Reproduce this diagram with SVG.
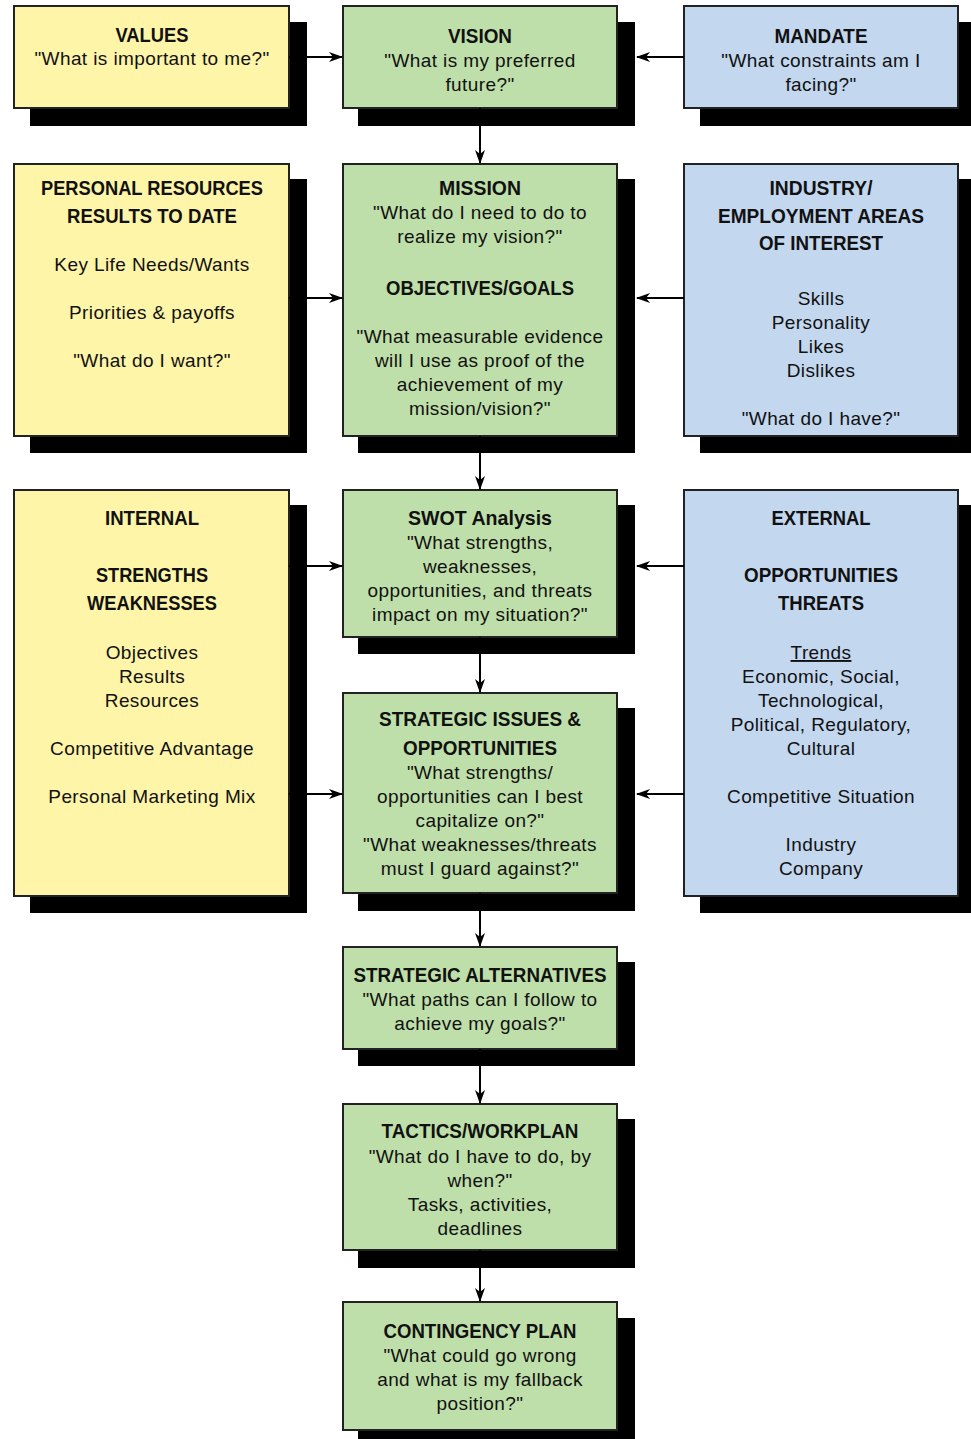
<svg xmlns="http://www.w3.org/2000/svg" width="971" height="1439" viewBox="0 0 971 1439">
<style>
.sh{fill:#000}
.y{fill:#FEF5A9;stroke:#222;stroke-width:2}
.g{fill:#BFDFAA;stroke:#222;stroke-width:2}
.b{fill:#C3D7EF;stroke:#222;stroke-width:2}
text{font-family:"Liberation Sans",Arial,sans-serif;font-size:19px;letter-spacing:0.4px;fill:#111;text-anchor:middle}
.t{font-weight:bold;font-size:21px;letter-spacing:0}
.c line{stroke:#000;stroke-width:2;fill:none}
</style>
<defs>
<marker id="ah" viewBox="0 0 14 10" refX="13" refY="5" markerWidth="14" markerHeight="10" markerUnits="userSpaceOnUse" orient="auto">
<path d="M0,0 L14,5 L0,10 L4,5 z" fill="#000"/>
</marker>
</defs>

<g id="values">
<rect class="sh" x="30" y="22" width="277" height="104"/>
<rect class="y" x="14" y="6" width="275" height="102"/>
<text class="t" x="152" y="42" textLength="73" lengthAdjust="spacingAndGlyphs">VALUES</text>
<text x="152" y="65">"What is important to me?"</text>
</g>

<g id="vision">
<rect class="sh" x="358" y="22" width="277" height="104"/>
<rect class="g" x="343" y="6" width="274" height="102"/>
<text class="t" x="480" y="43" textLength="64" lengthAdjust="spacingAndGlyphs">VISION</text>
<text x="480" y="67">"What is my preferred</text>
<text x="480" y="91">future?"</text>
</g>

<g id="mandate">
<rect class="sh" x="700" y="22" width="277" height="104"/>
<rect class="b" x="684" y="6" width="274" height="102"/>
<text class="t" x="821" y="43" textLength="93" lengthAdjust="spacingAndGlyphs">MANDATE</text>
<text x="821" y="67">"What constraints am I</text>
<text x="821" y="91">facing?"</text>
</g>

<g id="personal-resources">
<rect class="sh" x="30" y="179" width="277" height="274"/>
<rect class="y" x="14" y="164" width="275" height="272"/>
<text class="t" x="152" y="195" textLength="222" lengthAdjust="spacingAndGlyphs">PERSONAL RESOURCES</text>
<text class="t" x="152" y="223" textLength="170" lengthAdjust="spacingAndGlyphs">RESULTS TO DATE</text>
<text x="152" y="271">Key Life Needs/Wants</text>
<text x="152" y="319">Priorities &amp; payoffs</text>
<text x="152" y="367">"What do I want?"</text>
</g>

<g id="mission">
<rect class="sh" x="358" y="179" width="277" height="274"/>
<rect class="g" x="343" y="164" width="274" height="272"/>
<text class="t" x="480" y="195" textLength="82" lengthAdjust="spacingAndGlyphs">MISSION</text>
<text x="480" y="219">"What do I need to do to</text>
<text x="480" y="243">realize my vision?"</text>
<text class="t" x="480" y="295" textLength="188" lengthAdjust="spacingAndGlyphs">OBJECTIVES/GOALS</text>
<text x="480" y="343">"What measurable evidence</text>
<text x="480" y="367">will I use as proof of the</text>
<text x="480" y="391">achievement of my</text>
<text x="480" y="415">mission/vision?"</text>
</g>

<g id="industry">
<rect class="sh" x="700" y="179" width="277" height="274"/>
<rect class="b" x="684" y="164" width="274" height="272"/>
<text class="t" x="821" y="195" textLength="103" lengthAdjust="spacingAndGlyphs">INDUSTRY/</text>
<text class="t" x="821" y="223" textLength="206" lengthAdjust="spacingAndGlyphs">EMPLOYMENT AREAS</text>
<text class="t" x="821" y="250" textLength="124" lengthAdjust="spacingAndGlyphs">OF INTEREST</text>
<text x="821" y="305">Skills</text>
<text x="821" y="329">Personality</text>
<text x="821" y="353">Likes</text>
<text x="821" y="377">Dislikes</text>
<text x="821" y="425">"What do I have?"</text>
</g>

<g id="internal">
<rect class="sh" x="30" y="505" width="277" height="408"/>
<rect class="y" x="14" y="490" width="275" height="406"/>
<text class="t" x="152" y="525" textLength="94" lengthAdjust="spacingAndGlyphs">INTERNAL</text>
<text class="t" x="152" y="582" textLength="112" lengthAdjust="spacingAndGlyphs">STRENGTHS</text>
<text class="t" x="152" y="610" textLength="130" lengthAdjust="spacingAndGlyphs">WEAKNESSES</text>
<text x="152" y="659">Objectives</text>
<text x="152" y="683">Results</text>
<text x="152" y="707">Resources</text>
<text x="152" y="755">Competitive Advantage</text>
<text x="152" y="803">Personal Marketing Mix</text>
</g>

<g id="swot">
<rect class="sh" x="358" y="505" width="277" height="149"/>
<rect class="g" x="343" y="490" width="274" height="147"/>
<text class="t" x="480" y="525" textLength="144" lengthAdjust="spacingAndGlyphs">SWOT Analysis</text>
<text x="480" y="549">"What strengths,</text>
<text x="480" y="573">weaknesses,</text>
<text x="480" y="597">opportunities, and threats</text>
<text x="480" y="621">impact on my situation?"</text>
</g>

<g id="external">
<rect class="sh" x="700" y="505" width="277" height="408"/>
<rect class="b" x="684" y="490" width="274" height="406"/>
<text class="t" x="821" y="525" textLength="99" lengthAdjust="spacingAndGlyphs">EXTERNAL</text>
<text class="t" x="821" y="582" textLength="154" lengthAdjust="spacingAndGlyphs">OPPORTUNITIES</text>
<text class="t" x="821" y="610" textLength="86" lengthAdjust="spacingAndGlyphs">THREATS</text>
<text x="821" y="659" text-decoration="underline">Trends</text>
<text x="821" y="683">Economic, Social,</text>
<text x="821" y="707">Technological,</text>
<text x="821" y="731">Political, Regulatory,</text>
<text x="821" y="755">Cultural</text>
<text x="821" y="803">Competitive Situation</text>
<text x="821" y="851">Industry</text>
<text x="821" y="875">Company</text>
</g>

<g id="strategic-issues">
<rect class="sh" x="358" y="708" width="277" height="203"/>
<rect class="g" x="343" y="693" width="274" height="200"/>
<text class="t" x="480" y="726" textLength="202" lengthAdjust="spacingAndGlyphs">STRATEGIC ISSUES &amp;</text>
<text class="t" x="480" y="755" textLength="154" lengthAdjust="spacingAndGlyphs">OPPORTUNITIES</text>
<text x="480" y="779">"What strengths/</text>
<text x="480" y="803">opportunities can I best</text>
<text x="480" y="827">capitalize on?"</text>
<text x="480" y="851">"What weaknesses/threats</text>
<text x="480" y="875">must I guard against?"</text>
</g>

<g id="strategic-alternatives">
<rect class="sh" x="358" y="962" width="277" height="104"/>
<rect class="g" x="343" y="947" width="274" height="102"/>
<text class="t" x="480" y="982" textLength="253" lengthAdjust="spacingAndGlyphs">STRATEGIC ALTERNATIVES</text>
<text x="480" y="1006">"What paths can I follow to</text>
<text x="480" y="1030">achieve my goals?"</text>
</g>

<g id="tactics">
<rect class="sh" x="358" y="1119" width="277" height="149"/>
<rect class="g" x="343" y="1104" width="274" height="146"/>
<text class="t" x="480" y="1138" textLength="197" lengthAdjust="spacingAndGlyphs">TACTICS/WORKPLAN</text>
<text x="480" y="1163">"What do I have to do, by</text>
<text x="480" y="1187">when?"</text>
<text x="480" y="1211">Tasks, activities,</text>
<text x="480" y="1235">deadlines</text>
</g>

<g id="contingency">
<rect class="sh" x="358" y="1318" width="277" height="130"/>
<rect class="g" x="343" y="1302" width="274" height="128"/>
<text class="t" x="480" y="1338" textLength="193" lengthAdjust="spacingAndGlyphs">CONTINGENCY PLAN</text>
<text x="480" y="1362">"What could go wrong</text>
<text x="480" y="1386">and what is my fallback</text>
<text x="480" y="1410">position?"</text>
</g>

<g id="connectors" class="c">
<line x1="289" y1="57" x2="342" y2="57" marker-end="url(#ah)"/>
<line x1="684" y1="57" x2="637" y2="57" marker-end="url(#ah)"/>
<line x1="480" y1="108" x2="480" y2="163" marker-end="url(#ah)"/>
<line x1="289" y1="298" x2="342" y2="298" marker-end="url(#ah)"/>
<line x1="684" y1="298" x2="637" y2="298" marker-end="url(#ah)"/>
<line x1="480" y1="436" x2="480" y2="489" marker-end="url(#ah)"/>
<line x1="289" y1="566" x2="342" y2="566" marker-end="url(#ah)"/>
<line x1="684" y1="566" x2="637" y2="566" marker-end="url(#ah)"/>
<line x1="289" y1="794" x2="342" y2="794" marker-end="url(#ah)"/>
<line x1="684" y1="794" x2="637" y2="794" marker-end="url(#ah)"/>
<line x1="480" y1="637" x2="480" y2="692" marker-end="url(#ah)"/>
<line x1="480" y1="893" x2="480" y2="946" marker-end="url(#ah)"/>
<line x1="480" y1="1049" x2="480" y2="1103" marker-end="url(#ah)"/>
<line x1="480" y1="1250" x2="480" y2="1301" marker-end="url(#ah)"/>
</g>
</svg>
